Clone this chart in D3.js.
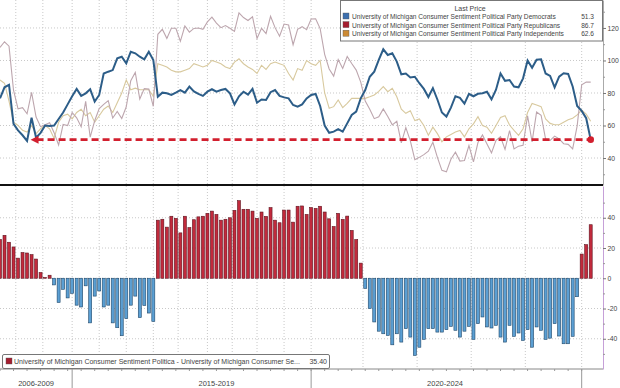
<!DOCTYPE html>
<html>
<head>
<meta charset="utf-8">
<script src="https://cdn.jsdelivr.net/npm/d3@7"></script>
<style>
  body { margin: 0; background: #fff; }
  svg { display: block; font-family: "Liberation Sans", Arial, sans-serif; }
</style>
</head>
<body>
<svg width="620" height="388"></svg>
<script>
// monthly-ish observations, index 0..131
const democrats = [
  76.7, 83.5, 85, 61, 57, 54, 50.5, 64.8, 52.5, 55.5, 60, 59.7, 60, 64, 68, 73, 78, 82.5, 78.2, 79.8,
  82.3, 74.7, 78.8, 92, 93.1, 94.1, 101.3, 102.3, 98.2, 105.4, 104.4, 102.3, 100.7, 105.4, 100.3, 77.7, 80.2, 79.8, 78.8, 80.2,
  81.8, 80.2, 83.9, 81, 79.4, 78.2, 80.8, 82.3, 80.8, 81.8, 82.5, 79.8, 73, 78, 80.8, 79, 82.5, 74, 76, 75.7,
  80.5, 81.8, 78.2, 77.3, 76.7, 72.6, 71.6, 73, 76.7, 78.8, 79.4, 72, 60, 55.5, 56.2, 57.7, 56.2, 61.3, 66.5, 68.5,
  76.7, 81.8, 90, 93.1, 100.3, 106.9, 103.4, 104.4, 99.3, 91.5, 92, 89.5, 90, 86, 82.5, 77.5, 83, 76, 68, 65.5,
  71, 78, 77, 73.5, 79.5, 78, 79.5, 79.8, 80.8, 76.1, 82, 92, 87.5, 88, 84, 83.5, 89, 100, 95.5, 100.5,
  100.7, 92, 90.5, 83.5, 90, 92.1, 91.7, 84, 72, 69, 64.5, 51.3
];
const republicans = [
  108, 111.5, 108.8, 81.7, 70.3, 71, 67.2, 80.4, 65.2, 59.3, 60.5, 61.7, 55.6, 48, 60.7, 60, 68, 64.7, 59.2, 74.8,
  52.8, 62.9, 70.4, 73, 75.3, 64.6, 68.6, 64.3, 71.5, 87.6, 92.6, 76.3, 82.7, 82.4, 71.8, 116.1, 119.2, 113.6, 119.8, 119.8,
  111.8, 121.2, 117.4, 119.7, 120, 119.2, 123.7, 126.7, 123, 120.2, 121.5, 119.8, 117.9, 129.3, 126.4, 124.6, 126.9, 113.6, 119.8, 116.6,
  127.2, 120.2, 114.9, 122.4, 121.8, 109.7, 119.2, 120.8, 118.9, 125.5, 125.6, 119.6, 103.8, 94.8, 90.4, 100.6, 95.1, 102.4, 98.1, 94.1,
  86.7, 75.1, 70, 64.2, 65.3, 70.2, 65.6, 60.4, 62.6, 49.3, 58.7, 50.6, 39, 40.4, 42.1, 44.2, 49.7, 40.4, 32.4, 31.5,
  39.2, 43.6, 38.1, 38.5, 47.7, 37.6, 49.5, 54.2, 48.6, 43.2, 50.9, 53.1, 45.3, 56.9, 45.6, 47.3, 47.9, 66, 49.9, 68.3,
  66.3, 51.6, 50.9, 53.5, 51.8, 48.8, 48.4, 45.6, 59.8, 85, 86.7, 86.7
];
const independents = [
  88, 86, 75, 62, 60, 57, 56, 60, 55, 58, 60, 58, 52, 62, 66, 67, 64, 68, 70, 66,
  68, 62, 66, 70, 72, 68, 74, 80, 88, 82, 83, 82, 82, 82, 78, 98, 97, 96, 94, 93,
  93, 94, 95, 98, 97, 96, 97, 100, 99, 98, 96, 95, 99, 101, 98, 96, 94.5, 92, 97, 94.5,
  98, 99, 98, 97, 92, 88, 95, 94, 100, 98, 97, 100, 80, 70.6, 71.6, 75.7, 71, 73.6, 76.7, 76.7,
  76.7, 76.7, 77.7, 78.8, 81, 83.9, 80.8, 82.9, 77.7, 70, 67.5, 69, 63, 64, 60, 54, 59, 55, 50, 53,
  54.5, 56, 57, 53, 58, 61, 65.4, 60, 59, 55.2, 60, 65, 66, 60.3, 57, 54, 58, 68, 73.6, 72.6,
  71.6, 64, 61.3, 60.5, 60.5, 62, 63.5, 64.5, 66.5, 69.5, 67, 62.6
];
// Republicans minus Democrats
const spread = [
  25.6, 28.4, 23.8, 20.7, 13.3, 17, 16.7, 15.6, 12.7, 3.8, 0.5, 2, -4.4, -16, -7.3, -13, -10, -17.8, -19, -5,
  -29.5, -11.8, -8.4, -19, -17.8, -29.5, -32.7, -38, -26.7, -17.8, -11.8, -26, -18, -23, -28.5, 38.4, 39, 33.8, 41, 39.6,
  30, 41, 33.5, 38.7, 40.6, 41, 42.9, 44.4, 42.2, 38.4, 39, 40, 44.9, 51.3, 45.6, 45.6, 44.4, 39.6, 43.8, 40.9,
  46.7, 38.4, 36.7, 45.1, 45.1, 37.1, 47.6, 47.8, 42.2, 46.7, 46.2, 47.6, 43.8, 39.3, 34.2, 42.9, 38.9, 41.1, 31.6, 25.6,
  10, -6.7, -20, -28.9, -35, -36.7, -37.8, -44, -36.7, -42.2, -33.3, -38.9, -51, -45.6, -40.4, -33.3, -33.3, -35.6, -35.6, -34,
  -31.8, -34.4, -38.9, -35, -31.8, -40.4, -30, -25.6, -32.2, -32.9, -31.1, -38.9, -42.2, -31.1, -38.4, -36.2, -41.1, -34, -45.6, -32.2,
  -34.4, -40.4, -39.6, -30, -38.2, -43.3, -43.3, -38.4, -12.2, 16, 22.2, 35.4
];

const seriesNames = [
  "University of Michigan Consumer Sentiment Political Party Democrats",
  "University of Michigan Consumer Sentiment Political Party Republicans",
  "University of Michigan Consumer Sentiment Political Party Independents"
];
const lastValues = ["51.3", "86.7", "62.6"];
const spreadName = "University of Michigan Consumer Sentiment Politica - University of Michigan Consumer Se...";
const spreadLast = "35.40";

const yTicksTop = [40, 60, 80, 100, 120];
const yMinorTop = [30, 50, 70, 90, 110, 130];
const yTicksBottom = [-40, -20, 0, 20, 40];
const yMinorBottom = [-50, -30, -10, 10, 30, 50];
const periodLabels = ["2006-2009", "2015-2019", "2020-2024"];
const periodLabelAt = [8, 48, 98.7];
const periodBreaks = [16, 69, 129];
const gridAt = [3.5, 9.5, 16, 22, 28, 34, 39.5, 46, 51.5, 57, 63, 69, 80.5, 92.5, 104.5, 116.5, 129];
const refLevel = 51.3, refStart = 7;

const svg = d3.select("svg");
const axisX = 603;
const topY0 = 0, topY1 = 185, botY0 = 186, botY1 = 369;

const x = d3.scaleLinear().domain([0, 131]).range([0, 590.7]);
const yTop = d3.scaleLinear().domain([23.4, 137.2]).range([topY1, topY0]);
const yBot = d3.scaleLinear().domain([-60, 61]).range([botY1, botY0]);

// ---- grids
const grid = svg.append("g").attr("stroke", "#c8c8c8").attr("stroke-dasharray", "1,2").attr("stroke-width", 1);
grid.selectAll(".ht").data(yTicksTop).join("line")
  .attr("x1", 0).attr("x2", axisX).attr("y1", d => yTop(d)).attr("y2", d => yTop(d));
grid.selectAll(".hb").data(yTicksBottom).join("line")
  .attr("x1", 0).attr("x2", axisX).attr("y1", d => yBot(d)).attr("y2", d => yBot(d));
grid.selectAll(".vt").data(gridAt).join("line")
  .attr("x1", d => x(d)).attr("x2", d => x(d)).attr("y1", topY0).attr("y2", topY1);
grid.selectAll(".vb").data(gridAt).join("line")
  .attr("x1", d => x(d)).attr("x2", d => x(d)).attr("y1", botY0).attr("y2", botY1);

// ---- bars
const barW = 3;
svg.append("g").selectAll("rect").data(spread).join("rect")
  .attr("x", (d, i) => x(i) - barW / 2)
  .attr("width", barW)
  .attr("y", d => yBot(Math.max(0, d)))
  .attr("height", d => Math.abs(yBot(d) - yBot(0)))
  .attr("fill", d => d >= 0 ? "#c22a3c" : "#5b9fd3")
  .attr("stroke", d => d >= 0 ? "#5e1520" : "#1f4769")
  .attr("stroke-width", 0.6);

// ---- lines
const line = d3.line().x((d, i) => x(i)).y(d => yTop(d));
svg.append("path").datum(independents).attr("d", line)
  .attr("fill", "none").attr("stroke", "#d8c99e").attr("stroke-width", 1.1);
svg.append("path").datum(republicans).attr("d", line)
  .attr("fill", "none").attr("stroke", "#bda6ae").attr("stroke-width", 1.1);
svg.append("path").datum(democrats).attr("d", line)
  .attr("fill", "none").attr("stroke", "#2c5d88").attr("stroke-width", 2);

// ---- reference dashed line at latest Democrats reading
const refY = yTop(refLevel);
svg.append("line")
  .attr("x1", x(refStart) + 5).attr("x2", x(131)).attr("y1", refY).attr("y2", refY)
  .attr("stroke", "#d21f2e").attr("stroke-width", 2.8).attr("stroke-dasharray", "7,4");
svg.append("path")
  .attr("d", `M${x(refStart) - 1},${refY} L${x(refStart) + 7},${refY - 4} L${x(refStart) + 7},${refY + 4} Z`)
  .attr("fill", "#d21f2e");
svg.append("circle").attr("cx", x(131)).attr("cy", refY).attr("r", 3.3).attr("fill", "#d21f2e");

// ---- panel divider
svg.append("line").attr("x1", 0).attr("x2", axisX).attr("y1", 185).attr("y2", 185)
  .attr("stroke", "#111").attr("stroke-width", 2);

// ---- right axes
function styleAxis(g, lineColor) {
  g.select(".domain").attr("stroke", lineColor);
  g.selectAll(".tick line").attr("stroke", "#777");
  g.selectAll(".tick text").attr("fill", "#444").attr("font-size", 6.8)
    .attr("font-family", "Liberation Sans, Arial, sans-serif");
}
const axTop = svg.append("g").attr("transform", `translate(${axisX},0)`)
  .call(d3.axisRight(yTop).tickValues(yTicksTop).tickSize(3).tickPadding(1.5).tickSizeOuter(0));
styleAxis(axTop, "#aaa");
svg.append("g").attr("transform", `translate(${axisX},0)`)
  .call(d3.axisRight(yTop).tickValues(yMinorTop).tickSize(2).tickFormat("").tickSizeOuter(0))
  .call(g => { g.select(".domain").remove(); g.selectAll("line").attr("stroke", "#999"); });

const axBot = svg.append("g").attr("transform", `translate(${axisX},0)`)
  .call(d3.axisRight(yBot).tickValues(yTicksBottom).tickFormat(d => String(d)).tickSize(3).tickPadding(1.5).tickSizeOuter(0));
styleAxis(axBot, "#c6a0d8");
svg.append("g").attr("transform", `translate(${axisX},0)`)
  .call(d3.axisRight(yBot).tickValues(yMinorBottom).tickSize(2).tickFormat("").tickSizeOuter(0))
  .call(g => { g.select(".domain").remove(); g.selectAll("line").attr("stroke", "#999"); });

// ---- bottom time axis
svg.append("line").attr("x1", 0).attr("x2", axisX).attr("y1", botY1).attr("y2", botY1)
  .attr("stroke", "#888").attr("stroke-width", 1);
svg.append("g").selectAll("line").data(d3.range(0, 132, 3)).join("line")
  .attr("x1", d => x(d)).attr("x2", d => x(d)).attr("y1", botY1).attr("y2", botY1 + 2)
  .attr("stroke", "#999");
svg.append("g").selectAll("line").data(periodBreaks).join("line")
  .attr("x1", d => x(d)).attr("x2", d => x(d)).attr("y1", botY1).attr("y2", 388)
  .attr("stroke", "#999");
svg.append("g").selectAll("text").data(periodLabels).join("text")
  .attr("x", (d, i) => x(periodLabelAt[i])).attr("y", 386)
  .attr("text-anchor", "middle").attr("font-size", 7.5).attr("fill", "#444")
  .text(d => d);

// ---- top legend
const legColors = ["#3c6fae", "#a51e30", "#cc8a34"];
const leg = svg.append("g");
leg.append("rect").attr("x", 340.5).attr("y", 0.5).attr("width", 262).attr("height", 40.5)
  .attr("fill", "#fff").attr("stroke", "#777");
leg.append("text").attr("x", 470).attr("y", 10.5).attr("text-anchor", "middle")
  .attr("font-size", 7).attr("fill", "#444").text("Last Price");
const rows = leg.selectAll(".row").data(seriesNames).join("g")
  .attr("transform", (d, i) => `translate(0,${19 + i * 8.6})`);
rows.append("rect").attr("x", 343).attr("y", -6).attr("width", 6).attr("height", 6)
  .attr("fill", (d, i) => legColors[i]).attr("stroke", "#555").attr("stroke-width", 0.4);
rows.append("text").attr("x", 352).attr("y", 0).attr("font-size", 6.6).attr("fill", "#444").text(d => d);
rows.append("text").attr("x", 594).attr("y", 0).attr("text-anchor", "end")
  .attr("font-size", 6.6).attr("fill", "#444").text((d, i) => lastValues[i]);

// ---- bottom legend
const leg2 = svg.append("g");
leg2.append("rect").attr("x", 2.5).attr("y", 354.5).attr("width", 327).attr("height", 14)
  .attr("rx", 1.5).attr("fill", "#fff").attr("stroke", "#777");
leg2.append("rect").attr("x", 6).attr("y", 358).attr("width", 6).attr("height", 6)
  .attr("fill", "#a51e30").attr("stroke", "#555").attr("stroke-width", 0.4);
leg2.append("text").attr("x", 14).attr("y", 364).attr("font-size", 7).attr("fill", "#444").text(spreadName);
leg2.append("text").attr("x", 327).attr("y", 364).attr("text-anchor", "end")
  .attr("font-size", 7).attr("fill", "#444").text(spreadLast);
</script>
</body>
</html>
